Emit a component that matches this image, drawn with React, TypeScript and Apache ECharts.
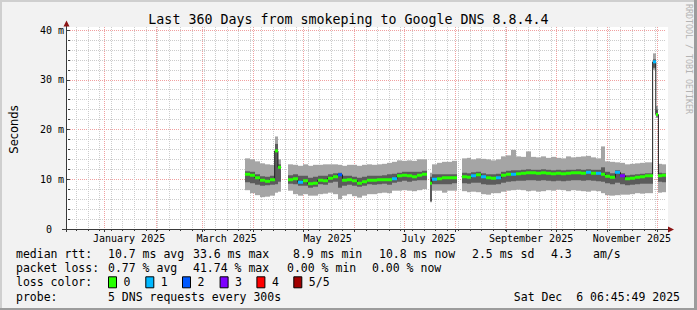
import { useEffect, useRef } from 'react';
import * as echarts from 'echarts';

const DAY = 86400000;
const END_TIME = Date.UTC(2025, 11, 6, 6, 45, 49);
const START_TIME = END_TIME - 360 * DAY;

// bins (start of each consolidated step); null = no data
const binStart = [
  '2025-03-27', '2025-03-30', '2025-04-02', '2025-04-05', '2025-04-08', '2025-04-11', '2025-04-14', '2025-04-16', '2025-04-18', '2025-04-22',
  '2025-04-25', '2025-04-28', '2025-05-01', '2025-05-04', '2025-05-07', '2025-05-10', '2025-05-13', '2025-05-16', '2025-05-19', '2025-05-22',
  '2025-05-25', '2025-05-28', '2025-05-31', '2025-06-03', '2025-06-06', '2025-06-09', '2025-06-12', '2025-06-15', '2025-06-18', '2025-06-21',
  '2025-06-24', '2025-06-27', '2025-06-30', '2025-07-03', '2025-07-06', '2025-07-09', '2025-07-12', '2025-07-15', '2025-07-17', '2025-07-18',
  '2025-07-21', '2025-07-24', '2025-07-27', '2025-07-30', '2025-08-02', '2025-08-05', '2025-08-08', '2025-08-11', '2025-08-14', '2025-08-17',
  '2025-08-20', '2025-08-23', '2025-08-26', '2025-08-29', '2025-09-01', '2025-09-04', '2025-09-07', '2025-09-10', '2025-09-13', '2025-09-16',
  '2025-09-19', '2025-09-22', '2025-09-25', '2025-09-28', '2025-10-01', '2025-10-04', '2025-10-07', '2025-10-10', '2025-10-13', '2025-10-16',
  '2025-10-19', '2025-10-22', '2025-10-25', '2025-10-28', '2025-10-31', '2025-11-03', '2025-11-06', '2025-11-09', '2025-11-12', '2025-11-15',
  '2025-11-18', '2025-11-21', '2025-11-24', '2025-11-28T12:00', '2025-11-30T10:00', '2025-12-02', '2025-12-04',
];

const outerHigh = [
  14.2, 14.0, 13.6, 13.2, 13.0, 12.9, 18.6, 14.0, null, 13.0,
  12.9, 12.7, 13.0, 12.7, 12.9, 12.9, 13.0, 13.0, 13.0, 12.9,
  12.7, 12.9, 12.9, 12.7, 12.9, 13.0, 12.9, 13.0, 13.1, 13.3,
  13.5, 13.8, 13.7, 13.8, 13.7, 14.0, 14.0, null, 11.3, 13.0,
  13.3, 13.5, 13.5, 13.7, null, 14.2, 14.3, 14.0, 14.2, 14.1,
  14.0, 13.8, 14.0, 14.6, 14.8, 15.9, 14.6, 14.5, 15.6, 14.5,
  14.4, 14.6, 14.3, 14.5, 14.3, 14.2, 14.6, 14.4, 14.5, 14.6,
  14.7, 14.4, 14.2, 16.6, 13.6, 13.5, 13.4, 13.3, 13.0, 13.1,
  13.2, 13.3, 13.4, 35.3, 24.7, 13.1, 13.0,
];

const innerHigh = [
  11.6, 11.5, 11.0, 10.6, 10.5, 10.7, 17.1, 13.0, null, 10.8,
  11.0, 10.7, 10.7, 10.3, 10.5, 10.7, 10.7, 11.0, 11.2, 11.3,
  10.7, 10.7, 10.5, 10.3, 10.5, 10.7, 10.7, 10.7, 10.8, 11.0,
  11.1, 11.3, 11.5, 11.5, 11.5, 11.5, 11.7, null, 10.5, 11.0,
  11.0, 11.0, 11.0, 11.0, null, 11.3, 11.2, 11.4, 11.5, 11.2,
  11.0, 11.0, 11.1, 11.5, 11.7, 11.8, 11.8, 11.9, 12.0, 11.9,
  11.9, 12.0, 11.9, 11.8, 11.9, 11.8, 11.9, 11.9, 12.0, 11.9,
  12.0, 11.9, 11.9, 12.4, 11.5, 11.2, 11.8, 11.2, 10.8, 10.9,
  11.0, 11.1, 11.2, 34.1, 24.0, 11.3, 11.2,
];

const medianRtt = [
  11.0, 10.8, 10.3, 9.8, 9.6, 9.9, 15.7, 12.4, null, 9.9,
  10.1, 9.4, 9.7, 9.1, 9.2, 9.8, 9.7, 10.2, 10.5, 10.9,
  9.8, 9.9, 9.7, 9.2, 9.5, 9.8, 9.8, 9.9, 9.9, 9.9,
  10.1, 10.7, 10.8, 10.7, 10.5, 10.8, 11.0, null, 9.2, 10.0,
  10.1, 10.3, 10.3, 10.3, null, 10.5, 10.4, 10.7, 10.9, 10.5,
  10.3, 10.2, 10.3, 10.8, 11.0, 11.0, 11.1, 11.2, 11.3, 11.3,
  11.2, 11.3, 11.2, 11.1, 11.2, 11.1, 11.2, 11.3, 11.3, 11.2,
  11.4, 11.2, 11.2, 11.0, 10.6, 10.4, 11.4, 10.7, 10.1, 10.2,
  10.4, 10.5, 10.7, 33.6, 23.0, 10.7, 10.8,
];

const innerLow = [
  9.4, 9.2, 8.9, 8.7, 8.8, 8.9, 9.0, 9.5, null, 9.1,
  9.0, 8.7, 8.7, 8.3, 8.5, 9.0, 8.9, 9.3, 9.5, 8.3,
  8.7, 8.9, 8.7, 8.5, 8.7, 9.0, 8.9, 9.0, 9.1, 8.9,
  9.3, 9.5, 9.7, 9.5, 9.7, 9.8, 9.8, null, 5.6, 9.0,
  9.0, 9.0, 9.0, 9.2, null, 9.2, 9.1, 9.3, 9.3, 9.0,
  8.9, 8.9, 9.0, 9.3, 9.5, 9.6, 9.7, 9.7, 9.8, 9.8,
  9.7, 9.8, 9.7, 9.6, 9.7, 9.6, 9.7, 9.8, 9.8, 9.7,
  9.8, 9.7, 9.6, 9.5, 9.2, 9.0, 9.3, 9.0, 8.8, 8.9,
  9.0, 9.1, 9.1, 32.4, 22.6, 9.5, 9.4,
];

const outerLow = [
  7.8, 7.2, 6.8, 6.4, 6.5, 6.7, 7.3, 7.5, null, 7.7,
  7.0, 6.7, 7.0, 6.7, 6.7, 7.0, 7.1, 7.3, 7.0, 6.0,
  6.7, 7.0, 6.6, 6.3, 6.7, 7.0, 7.0, 7.2, 7.3, 7.2,
  7.7, 7.7, 7.8, 7.7, 7.6, 7.8, 8.0, null, 5.4, 7.7,
  7.7, 7.3, 7.7, 7.7, null, 7.6, 7.4, 7.5, 7.4, 7.0,
  6.9, 7.2, 7.2, 7.5, 7.7, 7.8, 7.9, 7.8, 7.6, 7.7,
  7.5, 7.6, 7.8, 7.7, 7.9, 7.8, 7.6, 7.8, 7.7, 7.6,
  7.5, 7.7, 7.6, 7.2, 6.8, 6.7, 6.8, 6.9, 6.9, 7.0,
  7.2, 7.1, 7.2, 32.0, 22.3, 7.3, 7.4,
];

const lossLevel = [
  0, 0, 0, 0, 0, 0, 0, 0, 0, 0,
  0, 1, 0, 0, 0, 0, 0, 0, 0, 2,
  0, 0, 0, 0, 0, 0, 0, 0, 0, 0,
  1, 0, 0, 0, 0, 0, 0, 0, 0, 1,
  0, 0, 0, 0, 0, 0, 0, 1, 0, 1,
  0, 0, 1, 0, 0, 1, 0, 0, 0, 0,
  0, 0, 0, 0, 0, 0, 0, 0, 0, 0,
  1, 0, 1, 0, 0, 0, 1, 3, 0, 0,
  0, 0, 0, 1, 0, 0, 0,
];

const lossColors = ['#26ff00', '#00b8ff', '#0059ff', '#7e00ff', '#ff0000', '#a10000'];
const lossLabels = ['0', '1', '2', '3', '4', '5/5'];

const monthLabels = ['January 2025', 'March 2025', 'May 2025', 'July 2025', 'September 2025', 'November 2025'];
const monthLabelDates = ['2025-01-16', '2025-03-16', '2025-05-16', '2025-07-16', '2025-09-16', '2025-11-16'];
const monthStarts = [
  '2025-01-01', '2025-02-01', '2025-03-01', '2025-04-01', '2025-05-01', '2025-06-01',
  '2025-07-01', '2025-08-01', '2025-09-01', '2025-10-01', '2025-11-01', '2025-12-01',
];
const yTickValues = [0, 10, 20, 30, 40];
const yTickLabels = ['0', '10 m', '20 m', '30 m', '40 m'];

const MONO = "'DejaVu Sans Mono', monospace";
const LIGHT = '#a5a5a5';
const DARK = '#5b5b5b';
const MAJOR_GRID = '#f0a0a0';
const MINOR_GRID = '#cccccc';
const AXIS = '#3a3a3a';
const ARROW = '#8b1414';

function ts(s: string): number {
  return Date.parse(s.length === 10 ? s + 'T00:00:00Z' : s + ':00Z');
}

function buildOption() {
  const n = binStart.length;
  const starts = binStart.map(ts);
  const ends = starts.map((_, i) => (i + 1 < n ? starts[i + 1] : END_TIME));

  const smokeRows: number[][] = [];
  const medLine: any[] = [];
  for (let i = 0; i < n; i++) {
    const m = medianRtt[i];
    if (m == null) {
      medLine.push([starts[i], '-']);
      continue;
    }
    smokeRows.push([starts[i], ends[i], outerLow[i] as number, innerLow[i] as number, m, innerHigh[i] as number, outerHigh[i] as number, lossLevel[i]]);
    medLine.push([starts[i], m]);
    if (i === n - 1 || medianRtt[i + 1] == null) medLine.push([ends[i], m]);
  }

  const monthTs = monthStarts.map(ts);
  const gridRows: number[][] = [];
  for (let t = Date.UTC(2024, 11, 15); t < END_TIME; t += 7 * DAY) {
    if (!monthTs.includes(t)) gridRows.push([t, 0]);
  }
  monthTs.forEach((t) => gridRows.push([t, 1]));

  const labelTs = monthLabelDates.map(ts);

  const txt = (text: string, x: number, y: number, size: number, align = 'left', fill = '#000', extra: any = {}) => ({
    type: 'text',
    x,
    y,
    z: 10,
    silent: true,
    ...extra,
    style: {
      text,
      fill,
      font: `${size}px ${MONO}`,
      align,
      textAlign: align,
      verticalAlign: 'middle',
      textVerticalAlign: 'middle',
    },
  });

  const rows = [254.3, 268.3, 282.3, 296.5];
  const LF = 11.5;
  const graphic: any[] = [
    { type: 'rect', z: -1, silent: true, shape: { x: 66.5, y: 27, width: 601.5, height: 202 }, style: { fill: '#ffffff' } },
    { type: 'rect', z: 10, silent: true, shape: { x: 0, y: 0, width: 697, height: 2 }, style: { fill: '#cfcfcf' } },
    { type: 'rect', z: 10, silent: true, shape: { x: 0, y: 0, width: 2, height: 310 }, style: { fill: '#cfcfcf' } },
    { type: 'rect', z: 10, silent: true, shape: { x: 694, y: 0, width: 3, height: 310 }, style: { fill: '#9c9c9c' } },
    { type: 'rect', z: 10, silent: true, shape: { x: 0, y: 308, width: 697, height: 2 }, style: { fill: '#9c9c9c' } },
    { type: 'line', z: 10, silent: true, shape: { x1: 66.5, y1: 232, x2: 66.5, y2: 25 }, style: { stroke: AXIS, lineWidth: 1 } },
    { type: 'line', z: 10, silent: true, shape: { x1: 62, y1: 229.5, x2: 668, y2: 229.5 }, style: { stroke: AXIS, lineWidth: 1 } },
    { type: 'polygon', z: 11, silent: true, shape: { points: [[66.5, 20.5], [63.5, 26.5], [69.5, 26.5]] }, style: { fill: ARROW } },
    { type: 'polygon', z: 11, silent: true, shape: { points: [[674, 229.5], [668, 226.5], [668, 232.5]] }, style: { fill: ARROW } },
    txt('RRDTOOL / TOBI OETIKER', 688.5, 4, 8.3, 'left', '#b4b4b4', { rotation: -Math.PI / 2 }),
    txt('median rtt:', 16, rows[0], LF),
    txt('10.7 ms avg', 108, rows[0], LF),
    txt('33.6 ms max', 193, rows[0], LF),
    txt('8.9 ms min', 293, rows[0], LF),
    txt('10.8 ms now', 379, rows[0], LF),
    txt('2.5 ms sd', 472, rows[0], LF),
    txt('4.3', 551, rows[0], LF),
    txt('am/s', 593, rows[0], LF),
    txt('packet loss:', 16, rows[1], LF),
    txt('0.77 % avg', 108, rows[1], LF),
    txt('41.74 % max', 193, rows[1], LF),
    txt('0.00 % min', 287, rows[1], LF),
    txt('0.00 % now', 372, rows[1], LF),
    txt('loss color:', 16, rows[2], LF),
    txt('probe:', 16, rows[3], LF),
    txt('5 DNS requests every 300s', 108, rows[3], LF),
    txt('Sat Dec  6 06:45:49 2025', 680, rows[3], LF, 'right'),
  ];
  const boxX = [108, 145.3, 182, 219.6, 256.4, 293.3];
  lossLabels.forEach((lab, i) => {
    graphic.push({
      type: 'rect', z: 10, silent: true,
      shape: { x: boxX[i] + 0.5, y: rows[2] - 5.5, width: 8, height: 11 },
      style: { fill: lossColors[i], stroke: '#000', lineWidth: 1 },
    });
    graphic.push(txt(lab, boxX[i] + 15.5, rows[2], LF));
  });

  return {
    animation: false,
    backgroundColor: '#f2f2f2',
    title: {
      text: 'Last 360 Days from smokeping to Google DNS 8.8.4.4',
      left: 'center',
      top: 12.5,
      padding: 0,
      textStyle: { fontFamily: MONO, fontSize: 13.3, fontWeight: 'normal', color: '#000', lineHeight: 14 },
    },
    grid: { left: 66.3, right: 31.5, top: 30, bottom: 81, show: false },
    xAxis: {
      type: 'value',
      min: START_TIME,
      max: END_TIME,
      axisLine: { show: false },
      axisTick: { show: false },
      splitLine: { show: false },
      axisLabel: {
        customValues: labelTs,
        formatter: (v: number) => {
          const i = labelTs.indexOf(v);
          return i >= 0 ? monthLabels[i] : '';
        },
        margin: 3,
        fontFamily: MONO,
        fontSize: 10,
        lineHeight: 12,
        color: '#000',
      },
    },
    yAxis: {
      type: 'value',
      min: 0,
      max: 40,
      interval: 10,
      name: 'Seconds',
      nameLocation: 'middle',
      nameRotate: 90,
      nameGap: 50,
      nameTextStyle: { fontFamily: "'DejaVu Sans', sans-serif", fontSize: 11.5, color: '#000' },
      axisLine: { show: false },
      axisTick: { show: true, length: 3, lineStyle: { color: AXIS } },
      minorTick: { show: true, splitNumber: 5, length: 2, lineStyle: { color: AXIS } },
      splitLine: { show: true, lineStyle: { color: MAJOR_GRID, type: [1, 1], width: 1 } },
      minorSplitLine: { show: true, lineStyle: { color: MINOR_GRID, type: [1, 1], width: 1 } },
      axisLabel: {
        margin: 6,
        fontFamily: MONO,
        fontSize: 10,
        color: '#000',
        formatter: (v: number) => {
          const i = yTickValues.indexOf(v);
          const s = i >= 0 ? yTickLabels[i] : '';
          return v === 0 ? `{z|${s}}` : s;
        },
        rich: { z: { fontFamily: MONO, fontSize: 10, color: '#000', padding: [0, 12, 0, 0] } },
      },
    },
    series: [
      {
        name: 'grid',
        type: 'custom',
        z: 1,
        silent: true,
        clip: false,
        data: gridRows,
        encode: { x: 0 },
        renderItem: (_p: any, api: any) => {
          const t = api.value(0);
          const major = api.value(1) === 1;
          const top = api.coord([t, 40]);
          const bot = api.coord([t, 0]);
          const x = Math.round(top[0]) + 0.5;
          return {
            type: 'group',
            children: [
              { type: 'line', shape: { x1: x, y1: top[1] - 3, x2: x, y2: bot[1] }, style: { stroke: major ? MAJOR_GRID : MINOR_GRID, lineWidth: 1, lineDash: [1, 1] } },
              { type: 'line', shape: { x1: x, y1: bot[1], x2: x, y2: bot[1] + (major ? 3 : 2) }, style: { stroke: AXIS, lineWidth: 1 } },
            ],
          };
        },
      },
      {
        name: 'smoke',
        type: 'custom',
        z: 2,
        silent: true,
        data: smokeRows,
        encode: { x: [0, 1], y: [2, 3, 4, 5, 6] },
        renderItem: (_p: any, api: any) => {
          const xa = Math.round(api.coord([api.value(0), 0])[0]);
          const xb = Math.round(api.coord([api.value(1), 0])[0]);
          const yOL = api.coord([api.value(0), api.value(2)])[1];
          const yIL = api.coord([api.value(0), api.value(3)])[1];
          const yIH = api.coord([api.value(0), api.value(5)])[1];
          const yOH = api.coord([api.value(0), api.value(6)])[1];
          return {
            type: 'group',
            children: [
              { type: 'rect', shape: { x: xa, y: yOH, width: xb - xa, height: yOL - yOH }, style: { fill: LIGHT } },
              { type: 'rect', shape: { x: xa, y: yIH, width: xb - xa, height: yIL - yIH }, style: { fill: DARK } },
            ],
          };
        },
      },
      {
        name: 'median',
        type: 'line',
        z: 3,
        silent: true,
        step: 'end',
        symbol: 'none',
        connectNulls: false,
        data: medLine,
        lineStyle: { color: '#202020', width: 1 },
      },
      {
        name: 'loss',
        type: 'custom',
        z: 4,
        silent: true,
        data: smokeRows,
        encode: { x: [0, 1], y: 4 },
        renderItem: (_p: any, api: any) => {
          const xa = Math.round(api.coord([api.value(0), 0])[0]);
          const xb = Math.round(api.coord([api.value(1), 0])[0]);
          const ym = api.coord([api.value(0), api.value(4)])[1];
          return {
            type: 'rect',
            shape: { x: xa, y: ym - 1.5, width: xb - xa, height: 3 },
            style: { fill: lossColors[api.value(7)] },
          };
        },
      },
    ],
    graphic,
  };
}

export default function App() {
  const ref = useRef<HTMLDivElement>(null);
  useEffect(() => {
    document.body.style.margin = '0';
    const chart = echarts.init(ref.current as HTMLDivElement, null, { renderer: 'svg' });
    chart.setOption(buildOption() as any);
    return () => chart.dispose();
  }, []);
  return <div ref={ref} style={{ width: 697, height: 310, whiteSpace: 'pre' }} />;
}
